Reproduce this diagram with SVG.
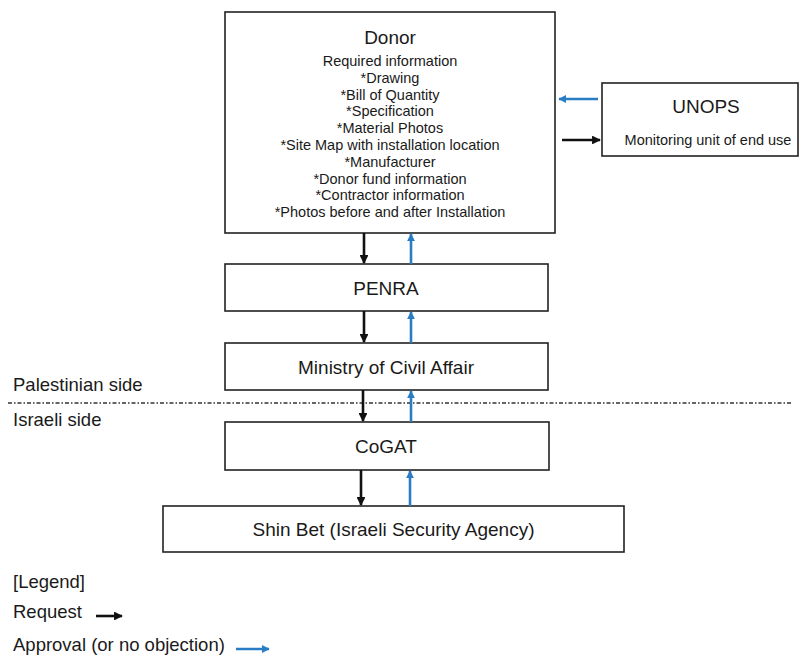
<svg xmlns="http://www.w3.org/2000/svg" width="799" height="659" viewBox="0 0 799 659">
<style>
.box{fill:#fff;stroke:#222;stroke-width:1.6}
.t{font-family:"Liberation Sans",Arial,sans-serif;fill:#1a1a1a;text-anchor:middle}
.lbl{font-family:"Liberation Sans",Arial,sans-serif;fill:#1a1a1a;font-size:18.5px}
.req{stroke:#111;stroke-width:2.6;fill:none}
.app{stroke:#2a7cc4;stroke-width:2.6;fill:none}
</style>
<defs>
<marker id="ab" viewBox="0 0 10 10" refX="9" refY="5" markerWidth="3.4" markerHeight="3.4" orient="auto" markerUnits="strokeWidth"><path d="M0,0 L10,5 L0,10 z" fill="#111"/></marker>
<marker id="au" viewBox="0 0 10 10" refX="9" refY="5" markerWidth="3" markerHeight="3" orient="auto" markerUnits="strokeWidth"><path d="M0,0 L10,5 L0,10 z" fill="#2a7cc4"/></marker>
</defs>
<rect width="799" height="659" fill="#fff"/>
<g id="donor">
<rect class="box" x="225" y="12" width="330" height="221"/>
<text class="t" x="390" y="44" font-size="19">Donor</text>
<g font-size="14.5">
<text class="t" x="390" y="66">Required information</text>
<text class="t" x="390" y="82.8">*Drawing</text>
<text class="t" x="390" y="99.6">*Bill of Quantity</text>
<text class="t" x="390" y="116.4">*Specification</text>
<text class="t" x="390" y="133.2">*Material Photos</text>
<text class="t" x="390" y="150">*Site Map with installation location</text>
<text class="t" x="390" y="166.8">*Manufacturer</text>
<text class="t" x="390" y="183.6">*Donor fund information</text>
<text class="t" x="390" y="200.4">*Contractor information</text>
<text class="t" x="390" y="217.2">*Photos before and after Installation</text>
</g>
</g>
<g id="unops">
<rect class="box" x="602" y="83" width="196" height="73"/>
<text class="t" x="706" y="113" font-size="19">UNOPS</text>
<text class="t" x="708" y="145" font-size="14.5">Monitoring unit of end use</text>
</g>
<g id="penra">
<rect class="box" x="225" y="264" width="323" height="47"/>
<text class="t" x="386" y="294.5" font-size="19">PENRA</text>
</g>
<g id="ministry">
<rect class="box" x="225" y="343" width="323" height="47"/>
<text class="t" x="386" y="373.5" font-size="19">Ministry of Civil Affair</text>
</g>
<g id="cogat">
<rect class="box" x="225" y="422" width="324" height="48"/>
<text class="t" x="386" y="452.5" font-size="19">CoGAT</text>
</g>
<g id="shinbet">
<rect class="box" x="163" y="506" width="461" height="46"/>
<text class="t" x="393.5" y="535.5" font-size="19">Shin Bet (Israeli Security Agency)</text>
</g>
<g id="divider">
<line x1="8" y1="403" x2="792" y2="403" stroke="#333" stroke-width="1.4" stroke-dasharray="4 2 1.5 2"/>
<text class="lbl" x="13" y="391">Palestinian side</text>
<text class="lbl" x="13" y="426">Israeli side</text>
</g>
<g id="connectors">
<line class="app" x1="598" y1="99" x2="559" y2="99" marker-end="url(#au)"/>
<line class="req" x1="562" y1="140" x2="600" y2="140" marker-end="url(#ab)"/>
<line class="req" x1="364" y1="233" x2="364" y2="263" marker-end="url(#ab)"/>
<line class="app" x1="411" y1="264" x2="411" y2="234" marker-end="url(#au)"/>
<line class="req" x1="364" y1="311" x2="364" y2="342" marker-end="url(#ab)"/>
<line class="app" x1="411" y1="343" x2="411" y2="312" marker-end="url(#au)"/>
<line class="req" x1="363" y1="390" x2="363" y2="421" marker-end="url(#ab)"/>
<line class="app" x1="411" y1="422" x2="411" y2="391" marker-end="url(#au)"/>
<line class="req" x1="361" y1="470" x2="361" y2="505" marker-end="url(#ab)"/>
<line class="app" x1="410" y1="506" x2="410" y2="471" marker-end="url(#au)"/>
</g>
<g id="legend">
<text class="lbl" x="13" y="588">[Legend]</text>
<text class="lbl" x="13" y="618">Request</text>
<line class="req" x1="96" y1="616" x2="122" y2="616" marker-end="url(#ab)"/>
<text class="lbl" x="13" y="651">Approval (or no objection)</text>
<line class="app" x1="236" y1="649" x2="269" y2="649" marker-end="url(#au)"/>
</g>
</svg>
